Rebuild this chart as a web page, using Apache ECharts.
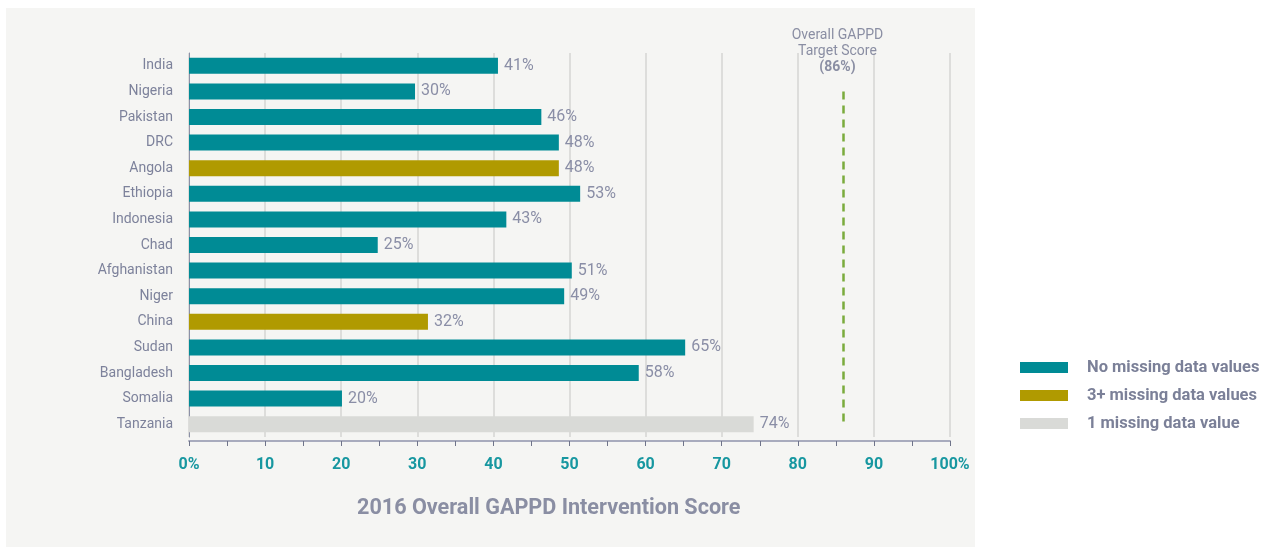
<!DOCTYPE html>
<html>
<head>
<meta charset="utf-8">
<script src="https://cdn.jsdelivr.net/npm/echarts@6/dist/echarts.min.js"></script>
<style>
  html, body { margin: 0; padding: 0; background: #fff; }
  #chart { width: 1262px; height: 547px; }
</style>
</head>
<body>
<div id="chart"></div>
<script>
// chart values
const countries = ['India', 'Nigeria', 'Pakistan', 'DRC', 'Angola', 'Ethiopia', 'Indonesia', 'Chad',
  'Afghanistan', 'Niger', 'China', 'Sudan', 'Bangladesh', 'Somalia', 'Tanzania']
const scores = [40.6, 29.7, 46.3, 48.6, 48.6, 51.4, 41.7, 24.8, 50.3, 49.3, 31.4, 65.2, 59.1, 20.1, 74.2]
const scoreLabels = ['41%', '30%', '46%', '48%', '48%', '53%', '43%', '25%', '51%', '49%', '32%', '65%', '58%', '20%', '74%']
// 0 = no missing, 1 = 3+ missing, 2 = 1 missing
const groups = [0, 0, 0, 0, 1, 0, 0, 0, 0, 0, 1, 0, 0, 0, 2]
const groupNames = ['No missing data values', '3+ missing data values', '1 missing data value']
const groupColors = ['#008b95', '#b09a00', '#d9dad7']
const xTickLabels = ['0%', '10', '20', '30', '40', '50', '60', '70', '80', '90', '100%']
const targetScore = 86

const myChart = echarts.init(document.getElementById('chart'))

const series = groupNames.map((name, g) => ({
  name: name,
  type: 'bar',
  stack: 'all',
  barWidth: 16,
  itemStyle: { color: groupColors[g] },
  data: scores.map((v, i) => (groups[i] === g ? v : '-')),
  label: {
    show: true,
    position: 'right',
    distance: 6,
    color: '#8a8ea6',
    fontFamily: 'Roboto',
    fontSize: 16,
    formatter: p => scoreLabels[p.dataIndex]
  }
}))

// target line lives on its own empty series so the stack doesn't touch it
series.push({
  name: 'target',
  type: 'line',
  data: [],
  markLine: {
    silent: true,
    symbol: 'none',
    lineStyle: { color: '#7aab3c', width: 2.5, type: [8, 6] },
    label: {
      show: true,
      position: 'start',
      distance: 16,
      offset: [-6, 0],
      color: '#8a8ea3',
      fontFamily: 'Roboto',
      fontSize: 14,
      lineHeight: 16,
      align: 'center',
      formatter: 'Overall GAPPD\nTarget Score\n{b|(' + targetScore + '%)}',
      rich: { b: { fontFamily: 'Roboto', fontWeight: 'bold', fontSize: 14, lineHeight: 16, color: '#8a8ea3' } }
    },
    data: [[{ coord: [targetScore, 'Nigeria'] }, { coord: [targetScore, 'Tanzania'] }]]
  }
})

const option = {
  backgroundColor: '#ffffff',
  animation: false,
  graphic: [{
    type: 'rect',
    z: -10,
    shape: { x: 6, y: 8, width: 969, height: 540 },
    style: { fill: '#f5f5f3' }
  }],
  title: {
    text: '2016 Overall GAPPD Intervention Score',
    left: 352,
    top: 493,
    textStyle: { color: '#8a8ea3', fontFamily: 'Roboto', fontWeight: 'bold', fontSize: 21.6 }
  },
  legend: {
    orient: 'vertical',
    left: 1015,
    top: 354,
    itemWidth: 48,
    itemHeight: 11,
    itemGap: 11,
    icon: 'rect',
    data: groupNames,
    textStyle: { color: '#7b8098', fontFamily: 'Roboto', fontWeight: 'bold', fontSize: 16.5, padding: [0, 0, 0, 14] }
  },
  grid: { left: 189, right: 312, top: 53, bottom: 110 },
  xAxis: {
    type: 'value',
    min: 0,
    max: 100,
    interval: 10,
    offset: 4,
    axisLine: { show: true, lineStyle: { color: '#a8abbd', width: 2 } },
    axisTick: { show: true, length: 5, lineStyle: { color: '#6f748a' } },
    minorTick: { show: true, splitNumber: 2, length: 5, lineStyle: { color: '#6f748a' } },
    splitLine: { show: true, lineStyle: { color: '#d5d5d3', width: 1.5 } },
    axisLabel: {
      margin: 16,
      color: '#1797a0',
      fontFamily: 'Roboto',
      fontWeight: 'bold',
      fontSize: 16,
      formatter: v => xTickLabels[Math.round(v / 10)]
    }
  },
  yAxis: {
    type: 'category',
    inverse: true,
    data: countries,
    axisLine: { show: true, lineStyle: { color: '#8c91a7', width: 1 } },
    axisTick: { show: false },
    axisLabel: { margin: 16, color: '#7d829b', fontFamily: 'Roboto', fontSize: 14 }
  },
  series: series
}

myChart.setOption(option)

window.addEventListener('resize', () => {
  myChart.resize()
})
</script>
</body>
</html>
